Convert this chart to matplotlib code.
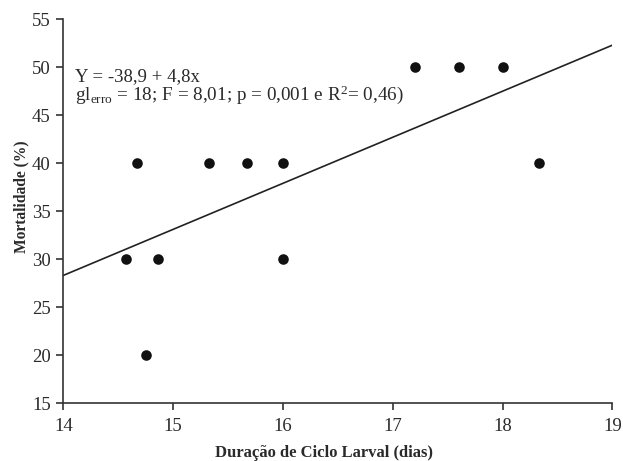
import matplotlib
matplotlib.use("Agg")
import matplotlib.pyplot as plt
import numpy as np

plt.rcParams['font.family'] = ['Liberation Serif', 'DejaVu Serif']
plt.rcParams['mathtext.fontset'] = 'custom'
plt.rcParams['mathtext.rm'] = 'Liberation Serif'
plt.rcParams['mathtext.it'] = 'Liberation Serif:italic'
plt.rcParams['mathtext.bf'] = 'Liberation Serif:bold'

# Data
duracao = [14.57, 14.67, 14.75, 14.86, 15.33, 15.67, 16.0, 16.0, 17.2, 17.6, 18.0, 18.33]
mortalidade = [30, 40, 20, 30, 40, 40, 40, 30, 50, 50, 50, 40]
intercept = -38.9
slope = 4.8
x_ticks = [14, 15, 16, 17, 18, 19]
y_ticks = [15, 20, 25, 30, 35, 40, 45, 50, 55]

txt = '#2a2a2a'
W, H = 623, 461
fig = plt.figure(figsize=(6.23, 4.61), dpi=100)
ax = fig.add_axes([63.3 / W, 1 - 403 / H, (612.3 - 63.3) / W, (403 - 19.3) / H])

ax.scatter(duracao, mortalidade, s=58, color='#111111', zorder=3, linewidths=0)
xl = np.array([14, 19])
ax.plot(xl, intercept + slope * xl, color='#222222', lw=1.2)

ax.set_xlim(14, 19)
ax.set_ylim(15, 55)
ax.set_xticks(x_ticks)
ax.set_yticks(y_ticks)
for s in ['top', 'right']:
    ax.spines[s].set_visible(False)
for s in ['left', 'bottom']:
    ax.spines[s].set_color('#333333')
    ax.spines[s].set_linewidth(1.2)
ax.tick_params(direction='out', length=5, width=1.2, colors='#333333',
               labelsize=13.5, labelcolor=txt)
ax.tick_params(axis='x', pad=6)
ax.tick_params(axis='y', pad=4)

fig.text(324 / W, 1 - 457 / H, 'Duração de Ciclo Larval (dias)', fontsize=12,
         fontweight='bold', color=txt, ha='center', va='baseline')
fig.text(21 / W, 1 - 197 / H, 'Mortalidade (%)', fontsize=11.2, fontweight='bold',
         color=txt, ha='center', va='center', rotation=90)

ax.text(14.107, 48.55, 'Y = -38,9 + 4,8x', fontsize=13.5, color=txt, va='baseline')
ax.text(14.107, 46.55, r'gl$_{\mathrm{erro}}$ = 18; F = 8,01; p = 0,001 e R$^{2}$= 0,46)',
        fontsize=13.8, color=txt, va='baseline')

fig.savefig('out.png', dpi=100)
